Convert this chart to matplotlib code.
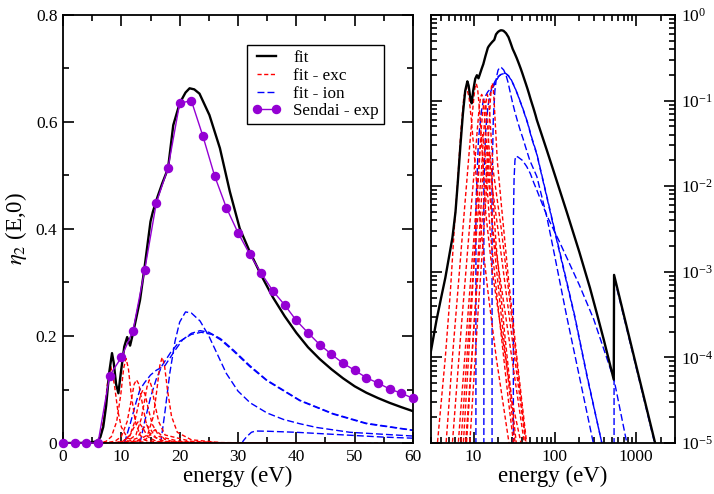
import matplotlib
matplotlib.use("Agg")
import matplotlib.pyplot as plt
from matplotlib.ticker import MultipleLocator, FuncFormatter, LogLocator, NullFormatter

plt.rcParams['font.family'] = ['Liberation Serif', 'DejaVu Serif']
plt.rcParams['mathtext.fontset'] = 'stix'

# ---------------- data (energy in eV, eta_2(E,0)) ----------------
# total fit
fit_E = [0, 2, 2.9, 3.5, 4.0, 4.5, 5.0, 5.5, 6.0, 6.4, 6.9, 7.4, 7.9, 8.4, 8.7, 9.1, 9.5,
         9.9, 10.5, 11.0, 11.5, 12.0, 12.6, 13.2, 14.0, 15.0, 15.4, 16.2, 17.0, 18.0, 18.9,
         20.0, 21.0, 21.7, 22.5, 23.4, 25.1, 26.9, 28.6, 30.3, 32.0, 34.0, 36.0, 38.0, 40.0,
         42.0, 44.0, 46.0, 48.0, 50.0, 52.0, 54.0, 56.0, 58.0, 60.0, 80, 100, 140, 200, 270,
         330, 400, 530, 534.5, 1000, 1708, 2000]
fit_v = [0, 0, 1.0e-4, 2.7e-4, 5.0e-4, 8.5e-4, 1.5e-3, 2.5e-3, 5.0e-3, 0.011, 0.03, 0.07, 0.13, 0.168, 0.15, 0.11, 0.093,
         0.13, 0.18, 0.198, 0.182, 0.205, 0.236, 0.267, 0.33, 0.414, 0.432, 0.46, 0.485, 0.513, 0.594,
         0.635, 0.655, 0.663, 0.661, 0.653, 0.613, 0.551, 0.47, 0.401, 0.358, 0.313, 0.272, 0.237, 0.206,
         0.179, 0.157, 0.138, 0.121, 0.106, 0.094, 0.084, 0.075, 0.067, 0.0595, 0.026, 0.0135, 0.0050, 0.0017, 6.5e-4,
         3.2e-4, 1.6e-4, 5.5e-5, 9.2e-4, 8e-5, 1e-5, 4e-6]

# excitation components
exc1_E = [3.0, 3.6, 4.5, 5.2, 5.8, 6.4, 7.0, 7.6, 8.2, 8.8, 9.4, 10.0, 11.0, 12.3, 15, 19, 27.3, 35]
exc1_v = [2e-6, 1e-5, 1e-4, 6e-4, 3.2e-3, 0.012, 0.045, 0.11, 0.143, 0.11, 0.06, 0.03, 0.01, 3.2e-3, 6e-4, 1e-4, 1e-5, 1e-6]
exc2_E = [3.5, 4.6, 5.5, 6.5, 7.4, 8.3, 9.2, 9.9, 10.4, 10.8, 11.2, 11.7, 12.4, 13.2, 14.1, 17, 22, 30, 38.3, 45]
exc2_v = [1e-6, 1e-5, 1e-4, 7e-4, 3.2e-3, 0.012, 0.04, 0.09, 0.14, 0.158, 0.14, 0.09, 0.04, 0.015, 5e-3, 1e-3, 2e-4, 3e-5, 1e-5, 2e-6]
exc3_E = [4.5, 5.5, 7.0, 8.9, 10.0, 11.0, 11.7, 12.2, 12.6, 13.0, 13.5, 14.2, 15.0, 17.2, 21, 30, 42.1, 50]
exc3_v = [1e-6, 1e-5, 2e-4, 3.2e-3, 0.012, 0.04, 0.08, 0.11, 0.118, 0.11, 0.08, 0.04, 0.015, 3.2e-3, 9e-4, 9e-5, 1e-5, 2e-6]
exc4_E = [5.5, 6.5, 8.5, 10.3, 11.5, 12.3, 12.9, 13.3, 13.7, 14.1, 14.6, 15.3, 16.5, 19.9, 25, 33, 44, 52]
exc4_v = [1e-6, 1e-5, 3e-4, 3.2e-3, 0.015, 0.04, 0.07, 0.09, 0.099, 0.09, 0.065, 0.035, 0.012, 3.2e-3, 6e-4, 8e-5, 1e-5, 2e-6]
exc5_E = [6.0, 7.0, 9.0, 11.0, 12.5, 13.4, 14.0, 14.4, 14.8, 15.2, 15.7, 16.4, 17.5, 21.9, 27, 35, 44, 52]
exc5_v = [1e-6, 1e-5, 3e-4, 3.2e-3, 0.015, 0.045, 0.08, 0.105, 0.118, 0.105, 0.075, 0.04, 0.015, 3.2e-3, 6e-4, 7e-5, 1e-5, 2e-6]
exc6_E = [7.0, 8.0, 10.0, 12.5, 14.5, 15.5, 16.1, 16.6, 17.0, 17.4, 17.9, 18.6, 19.6, 22, 27, 35, 45, 55]
exc6_v = [1e-6, 1e-5, 2e-4, 3.2e-3, 0.015, 0.05, 0.1, 0.145, 0.16, 0.145, 0.1, 0.05, 0.02, 6e-3, 8e-4, 8e-5, 1e-5, 1e-6]
exc7_E = [6.0, 7.5, 9.5, 11.3, 12.1, 12.9, 13.7, 14.5, 16, 20, 27, 38]
exc7_v = [1e-6, 1e-5, 4e-4, 0.01, 0.028, 0.04, 0.028, 0.012, 3e-3, 4e-4, 3e-5, 2e-6]
exc8_E = [6.5, 8.2, 10.5, 12.7, 13.5, 14.3, 15.1, 15.9, 17.5, 22, 30, 42]
exc8_v = [1e-6, 1e-5, 4e-4, 0.009, 0.024, 0.034, 0.024, 0.01, 2.5e-3, 3e-4, 2e-5, 1e-6]
exc9_E = [7.0, 9.0, 11.5, 14.2, 15.0, 15.8, 16.6, 17.4, 19, 24, 32, 44]
exc9_v = [1e-6, 1e-5, 4e-4, 0.007, 0.017, 0.025, 0.017, 0.007, 2e-3, 2e-4, 1.5e-5, 1e-6]

# ionisation components
ion1_E = [10.5, 10.7, 11.5, 12.5, 13.2, 14.0, 15.0, 16.0, 17.5, 19.0, 20.5, 22.0, 23.5, 25.0, 27.0,
          29.2, 32.0, 34.9, 40.6, 46.3, 52.0, 60.0, 80, 100, 130, 175, 250, 378, 500]
ion1_v = [0, 0.006, 0.035, 0.075, 0.10, 0.113, 0.127, 0.136, 0.145, 0.17, 0.193, 0.205, 0.21, 0.207, 0.195,
          0.174, 0.145, 0.118, 0.080, 0.055, 0.037, 0.024, 0.0075, 0.0030, 0.00104, 3.1e-4, 6e-5, 1e-5, 3e-6]
ion2_E = [13.2, 13.4, 14.0, 15.0, 16.0, 17.0, 18.5, 20.0, 22.0, 23.7, 25.5, 27.0, 29.2, 32.0, 35.0,
          40.6, 46.3, 52.0, 60.0, 80, 100, 130, 175, 250, 378, 500]
ion2_v = [0, 0.01, 0.04, 0.085, 0.12, 0.145, 0.17, 0.19, 0.203, 0.207, 0.203, 0.193, 0.172, 0.143, 0.116,
          0.079, 0.054, 0.036, 0.0235, 0.0073, 0.0029, 0.001, 3e-4, 5.8e-5, 1e-5, 3e-6]
ion3_E = [16.7, 16.9, 17.5, 18.3, 19.2, 20.0, 21.0, 22.0, 23.5, 25.0, 26.5, 28.0, 30.0, 32.1, 35.0,
          37.8, 40.6, 43.5, 49.2, 60.0, 80, 100, 139, 200, 297, 400]
ion3_v = [0, 0.012, 0.06, 0.13, 0.19, 0.226, 0.245, 0.243, 0.228, 0.2, 0.165, 0.13, 0.097, 0.075, 0.056,
          0.044, 0.036, 0.029, 0.020, 0.013, 4.3e-3, 1.5e-3, 3.1e-4, 6e-5, 1e-5, 2.5e-6]
ion4_E = [30.7, 30.9, 31.5, 32.3, 33.0, 35.0, 40.0, 45.0, 50.0, 55.0, 60.0, 80, 115, 200, 300, 534, 767, 1000]
ion4_v = [0, 0.004, 0.012, 0.02, 0.0224, 0.022, 0.02, 0.017, 0.014, 0.011, 0.009, 0.0045, 0.0022, 7e-4, 2.8e-4, 5.5e-5, 1e-5, 3e-6]
ion5_E = [534, 534.5, 1000, 1708, 2000]
ion5_v = [0, 8.7e-4, 7.6e-5, 9.5e-6, 3.5e-6]

# Sendai experiment
exp_E = [0, 2, 4, 6, 8, 10, 12, 14, 16, 18, 20, 22, 24, 26, 28, 30, 32, 34, 36, 38, 40,
         42, 44, 46, 48, 50, 52, 54, 56, 58, 60]
exp_v = [0, 0, 0, 0, 0.126, 0.160, 0.21, 0.323, 0.449, 0.514, 0.635, 0.640, 0.573, 0.499, 0.44,
         0.393, 0.353, 0.317, 0.284, 0.258, 0.229, 0.206, 0.184, 0.166, 0.149, 0.136, 0.122,
         0.112, 0.101, 0.093, 0.0835]

exc_curves = [(exc1_E, exc1_v), (exc2_E, exc2_v), (exc3_E, exc3_v), (exc4_E, exc4_v),
              (exc5_E, exc5_v), (exc6_E, exc6_v), (exc7_E, exc7_v), (exc8_E, exc8_v),
              (exc9_E, exc9_v)]
ion_curves = [(ion1_E, ion1_v), (ion2_E, ion2_v), (ion3_E, ion3_v), (ion4_E, ion4_v),
              (ion5_E, ion5_v)]

# ---------------- figure ----------------
W, H = 714, 494
fig = plt.figure(figsize=(W / 100, H / 100), dpi=100)
ax1 = fig.add_axes([63 / W, 1 - 443 / H, 350 / W, 428 / H])
ax2 = fig.add_axes([431 / W, 1 - 443 / H, 244 / W, 428 / H])

purple = '#9400d3'
red_dash = (0, (3.0, 1.8))
blue_dash = (0, (5.0, 2.2))


def draw(ax):
    for i, (e, v) in enumerate(ion_curves):
        ax.plot(e, v, color='#0000ff', lw=1.0, linestyle=blue_dash,
                label='fit - ion' if i == 0 else None, zorder=2)
    for i, (e, v) in enumerate(exc_curves):
        ax.plot(e, v, color='#ff0000', lw=1.0, linestyle=red_dash,
                label='fit - exc' if i == 0 else None, zorder=2)
    ax.plot(fit_E, fit_v, color='black', lw=1.7, label='fit', zorder=3)


draw(ax1)
ax1.plot(exp_E, exp_v, color=purple, lw=1.0, marker='o', ms=5.8, mec=purple, mfc=purple,
         label='Sendai - exp', zorder=4, clip_on=False)
ax1.set_xlim(0, 60)
ax1.set_ylim(0, 0.8)
ax1.xaxis.set_major_locator(MultipleLocator(10))
ax1.xaxis.set_minor_locator(MultipleLocator(5))
ax1.yaxis.set_major_locator(MultipleLocator(0.2))
ax1.yaxis.set_minor_locator(MultipleLocator(0.1))
ax1.yaxis.set_major_formatter(FuncFormatter(lambda v, p: '0' if abs(v) < 1e-9 else f'{v:.1f}'))
ax1.set_xlabel('energy (eV)', fontsize=16.5, labelpad=1)
ax1.set_ylabel(r'$\eta_2$ (E,0)', fontsize=16.5, labelpad=5)

handles, labels = ax1.get_legend_handles_labels()
order = ['fit', 'fit - exc', 'fit - ion', 'Sendai - exp']
hmap = dict(zip(labels, handles))
leg = ax1.legend([hmap[k] for k in order], order, loc='upper left',
                 bbox_to_anchor=(0.526, 0.93), fontsize=12.3, numpoints=2,
                 handlelength=1.7, handletextpad=0.7, labelspacing=0.1,
                 borderpad=0.3, borderaxespad=0.0, fancybox=False, framealpha=1)
leg.get_frame().set_edgecolor('black')
leg.get_frame().set_linewidth(1.0)

draw(ax2)
ax2.set_xscale('log')
ax2.set_yscale('log')
ax2.set_xlim(3, 3000)
ax2.set_ylim(1e-5, 1)
ax2.xaxis.set_major_locator(LogLocator(base=10, numticks=10))
ax2.xaxis.set_minor_locator(LogLocator(base=10, subs=range(2, 10), numticks=20))
ax2.xaxis.set_minor_formatter(NullFormatter())
ax2.xaxis.set_major_formatter(FuncFormatter(lambda v, p: f'{int(round(v))}'))
ax2.yaxis.set_major_locator(LogLocator(base=10, numticks=10))
ax2.yaxis.set_minor_locator(LogLocator(base=10, subs=range(2, 10), numticks=20))
ax2.yaxis.set_minor_formatter(NullFormatter())
ax2.set_xlabel('energy (eV)', fontsize=16.5, labelpad=1)

for ax in (ax1, ax2):
    for s in ax.spines.values():
        s.set_linewidth(1.3)
    ax.tick_params(which='both', direction='in', top=True, right=True, bottom=True, left=True,
                   labelsize=12.5, width=1.2, pad=4)
    ax.tick_params(which='major', length=8)
    ax.tick_params(which='minor', length=4)

ax2.tick_params(which='both', labelleft=False, labelright=True)

fig.savefig('out.png', dpi=100)
